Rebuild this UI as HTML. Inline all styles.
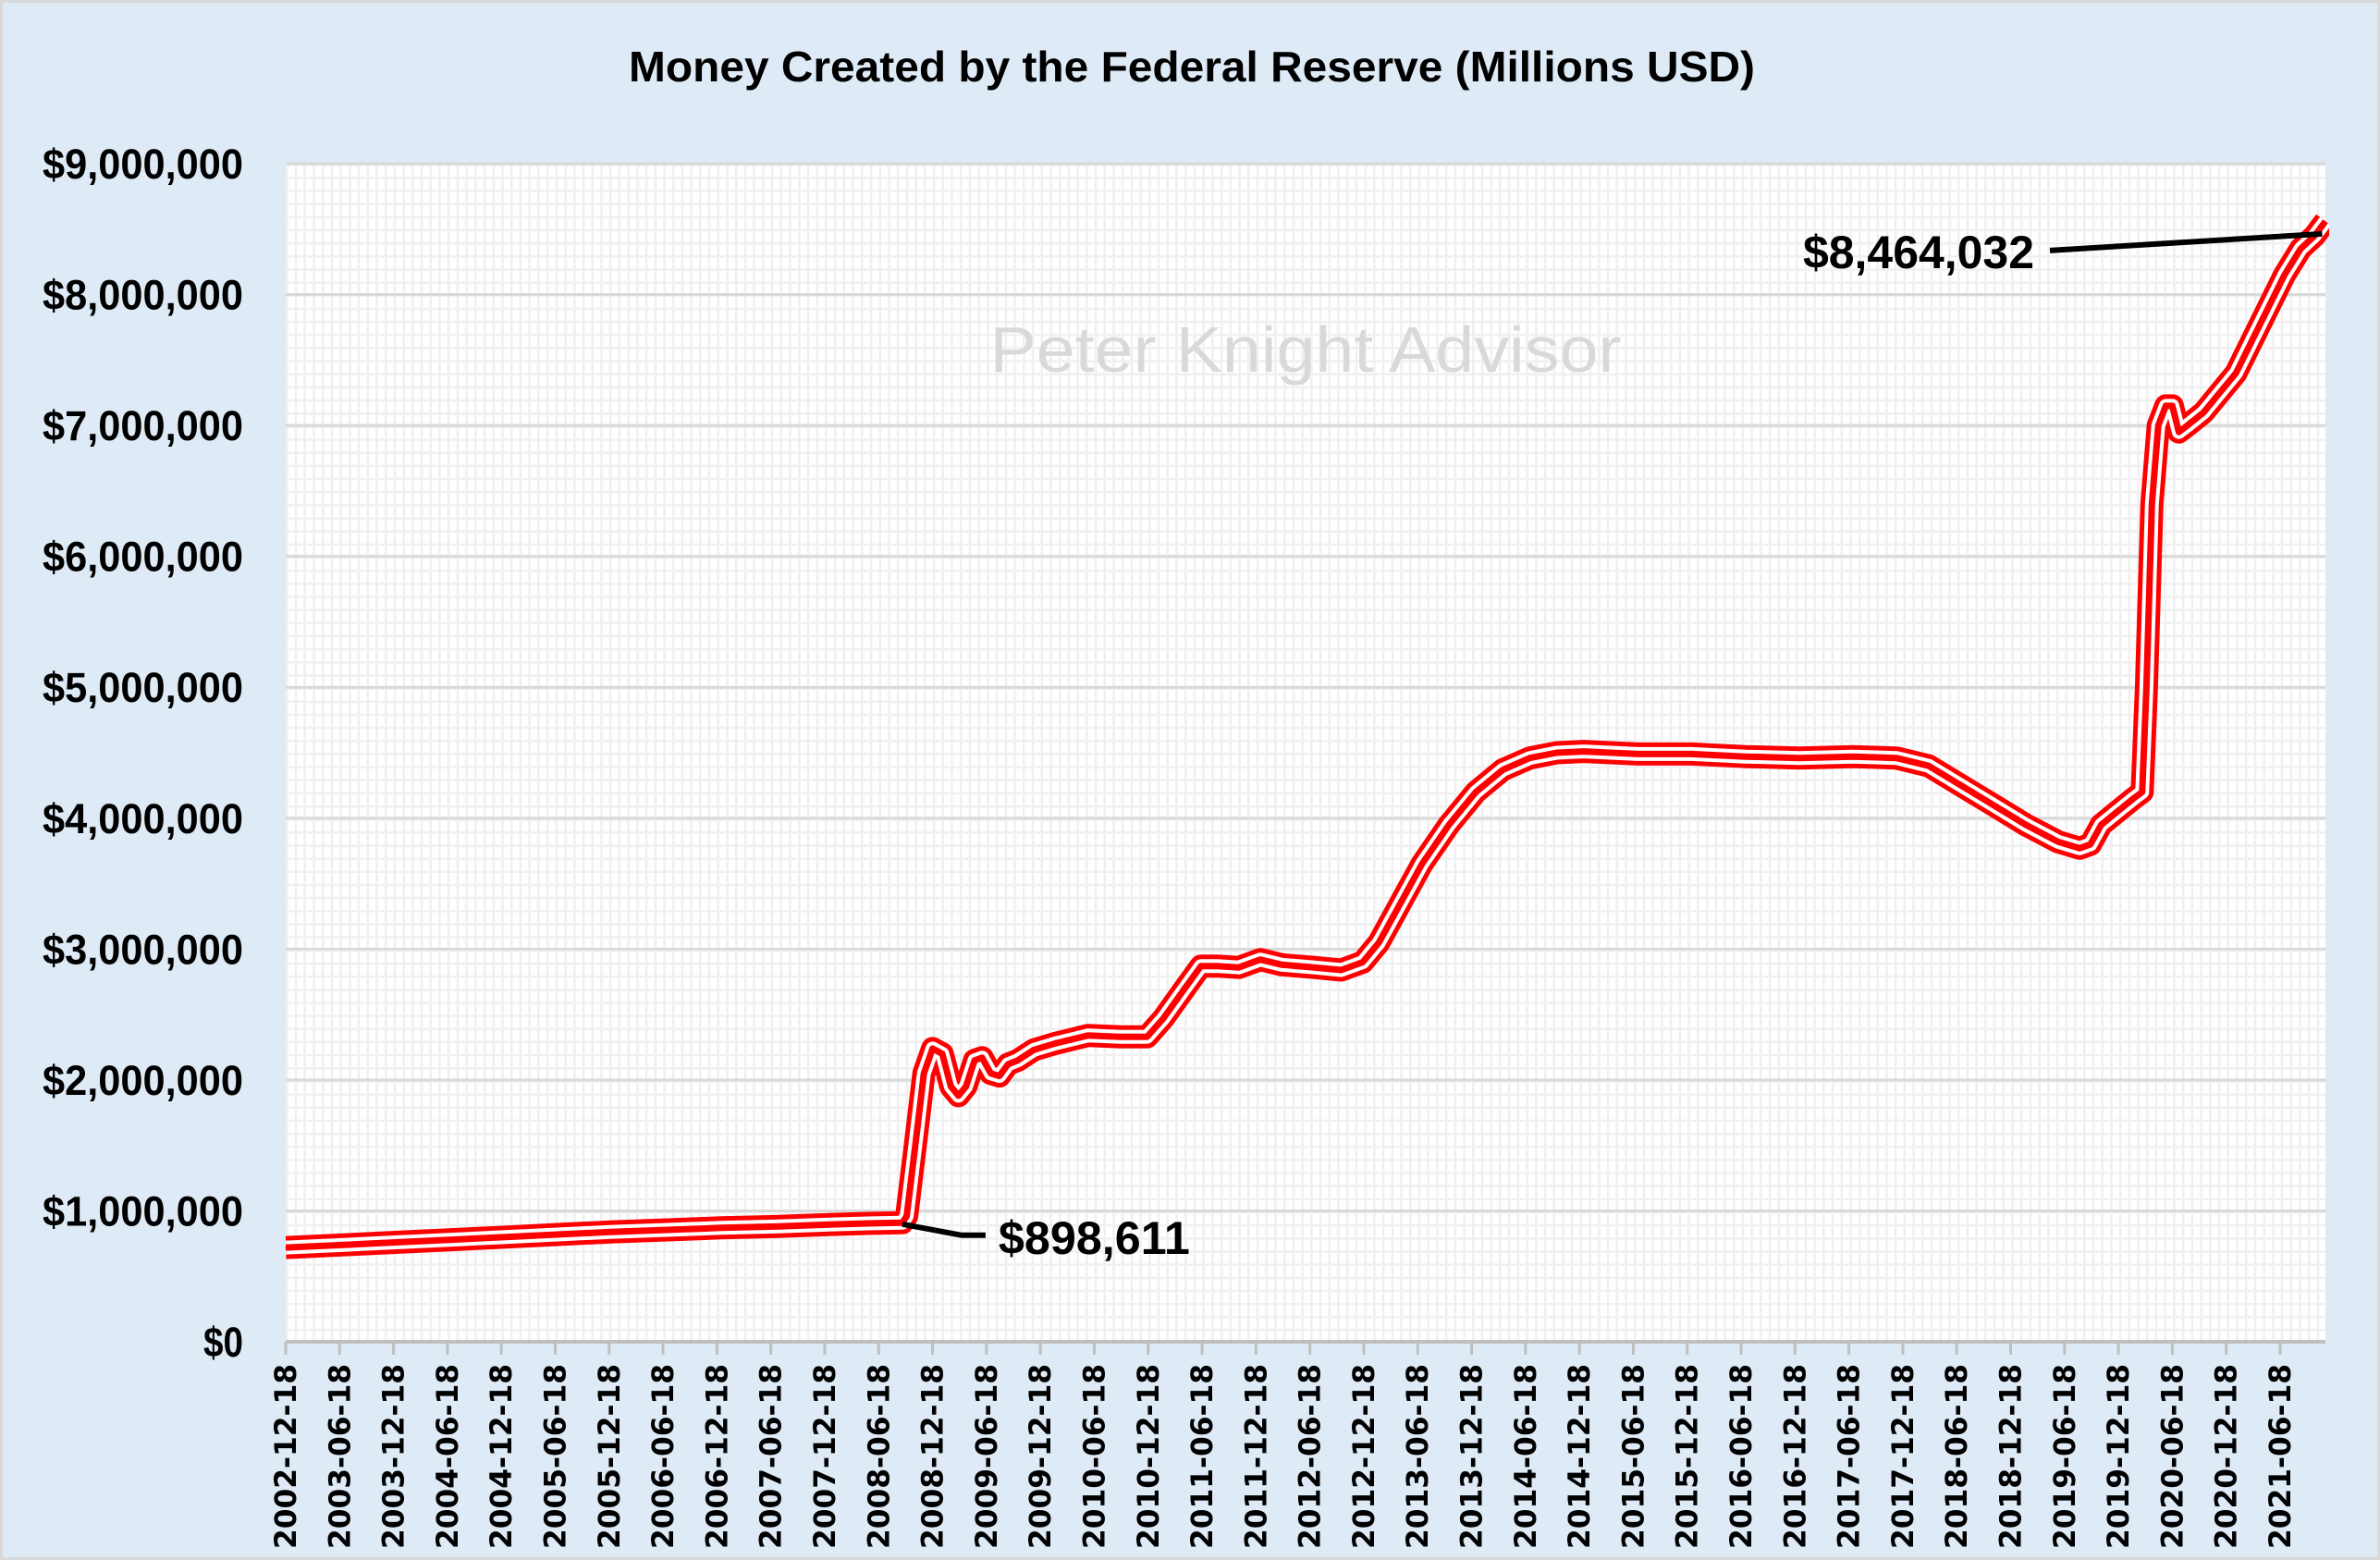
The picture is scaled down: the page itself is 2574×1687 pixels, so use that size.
<!DOCTYPE html>
<html><head><meta charset="utf-8"><style>
html,body{margin:0;padding:0;background:#d9d9d9;}
svg{display:block;}
text{font-family:"Liberation Sans",sans-serif;font-weight:bold;}
</style></head><body>
<svg id="chart" width="2574" height="1687" viewBox="0 0 2574 1687" xmlns="http://www.w3.org/2000/svg">
<defs>
<pattern id="minor" x="309" y="177" width="9.72" height="14.16" patternUnits="userSpaceOnUse">
<rect width="9.72" height="14.16" fill="#ffffff"/>
<rect x="0" y="0" width="2.5" height="14.16" fill="#f0f0f0"/>
<rect x="0" y="0" width="9.72" height="2.5" fill="#f0f0f0"/>
</pattern>
<clipPath id="plotclip"><rect x="309" y="120" width="2210" height="1340"/></clipPath>
</defs>
<rect x="3" y="3" width="2568" height="1681" fill="#deeaf6"/>
<text x="1289" y="88" font-size="46" text-anchor="middle" textLength="1218" lengthAdjust="spacingAndGlyphs" fill="#000">Money Created by the Federal Reserve (Millions USD)</text>
<rect x="309" y="177" width="2206" height="1274" fill="url(#minor)"/>
<g id="grid"></g>
<g id="yaxis"></g>
<g id="xaxis"></g>
<text x="1412" y="402" font-size="70" text-anchor="middle" textLength="683" lengthAdjust="spacingAndGlyphs" fill="#d9d9d9" style="font-weight:normal">Peter Knight Advisor</text>
<g id="series" clip-path="url(#plotclip)"></g>
<g id="annot"></g>
</svg>
<script>
const yTicks=[0,1000000,2000000,3000000,4000000,5000000,6000000,7000000,8000000,9000000];
const yTickLabels=["$0","$1,000,000","$2,000,000","$3,000,000","$4,000,000","$5,000,000","$6,000,000","$7,000,000","$8,000,000","$9,000,000"];
const xTickLabels=["2002-12-18","2003-06-18","2003-12-18","2004-06-18","2004-12-18","2005-06-18","2005-12-18","2006-06-18","2006-12-18","2007-06-18","2007-12-18","2008-06-18","2008-12-18","2009-06-18","2009-12-18","2010-06-18","2010-12-18","2011-06-18","2011-12-18","2012-06-18","2012-12-18","2013-06-18","2013-12-18","2014-06-18","2014-12-18","2015-06-18","2015-12-18","2016-06-18","2016-12-18","2017-06-18","2017-12-18","2018-06-18","2018-12-18","2019-06-18","2019-12-18","2020-06-18","2020-12-18","2021-06-18"];
const dates=[2002.96,2003.5,2004.0,2004.5,2005.0,2005.5,2006.0,2006.5,2007.0,2007.5,2008.0,2008.4,2008.68,2008.72,2008.8,2008.88,2008.96,2009.05,2009.13,2009.2,2009.27,2009.35,2009.42,2009.5,2009.58,2009.66,2009.75,2009.9,2010.1,2010.4,2010.7,2010.95,2011.1,2011.3,2011.45,2011.6,2011.8,2012.0,2012.2,2012.5,2012.75,2012.95,2013.1,2013.3,2013.5,2013.75,2014.0,2014.25,2014.5,2014.75,2015.0,2015.5,2016.0,2016.5,2017.0,2017.5,2017.9,2018.2,2018.5,2018.8,2019.1,2019.4,2019.6,2019.7,2019.8,2019.95,2020.1,2020.18,2020.22,2020.27,2020.33,2020.4,2020.46,2020.52,2020.6,2020.75,2020.9,2021.05,2021.2,2021.35,2021.5,2021.65,2021.78,2021.88];
const values=[720000,740000,760000,780000,800000,820000,840000,855000,870000,880000,895000,905000,910000,960000,1500000,2050000,2240000,2200000,1950000,1880000,1950000,2150000,2170000,2050000,2030000,2120000,2150000,2230000,2280000,2340000,2330000,2330000,2470000,2700000,2870000,2870000,2860000,2920000,2880000,2860000,2840000,2900000,3050000,3350000,3650000,3950000,4200000,4370000,4460000,4500000,4510000,4490000,4490000,4470000,4460000,4470000,4460000,4400000,4250000,4100000,3950000,3820000,3770000,3800000,3950000,4050000,4150000,4200000,5000000,6400000,7000000,7150000,7150000,6950000,7000000,7100000,7250000,7400000,7650000,7900000,8150000,8350000,8450000,8560000];
const annValues=[898611,8464032];
const annLabels=["$898,611","$8,464,032"];
const annDates=[2008.68,2021.85];

const NS="http://www.w3.org/2000/svg";
const L=309,R=2515,T=177,B=1451;
const t0=2002.96,t1=2021.46,x0=309,x1=2466;
function xs(t){return x0+(t-t0)*(x1-x0)/(t1-t0);}
function ys(v){return B-(v/9000000)*(B-T);}
function mk(tag,attrs,parent){const e=document.createElementNS(NS,tag);for(const k in attrs)e.setAttribute(k,attrs[k]);parent.appendChild(e);return e;}

const grid=document.getElementById('grid'),ya=document.getElementById('yaxis'),xa=document.getElementById('xaxis');
yTicks.forEach((v,i)=>{
  const y=ys(v);
  const g=mk('line',{x1:L,x2:R,y1:y,y2:y,stroke:i===0?'#bfbfbf':'#d9d9d9','stroke-width':i===0?4:3},grid);
  
  
  const lab=yTickLabels[i];
  const tx=mk('text',{x:263,y:y+16,'font-size':45,'text-anchor':'end',fill:'#000',textLength:Math.round(lab.length*21.7),lengthAdjust:'spacingAndGlyphs'},ya);
  
  
  tx.textContent=lab;
});
xTickLabels.forEach((lab,i)=>{
  const t=t0+i*0.5;const x=xs(t);
  const tk=mk('line',{x1:x,x2:x,y1:B,y2:B+14,stroke:'#bfbfbf','stroke-width':3},xa);
  
  
  const tx=mk('text',{x:0,y:0,'font-size':32,'text-anchor':'end',fill:'#000',textLength:200,lengthAdjust:'spacingAndGlyphs',style:'font-family:"DejaVu Sans",sans-serif',transform:`translate(${x+11},${B+24}) rotate(-90)`},xa);
  
  
  tx.textContent=lab;
});
const s=document.getElementById('series');
const d=dates.map((t,i)=>(i?'L':'M')+xs(t).toFixed(1)+','+ys(values[i]).toFixed(1)).join(' ');
const p1=mk('path',{d:d,fill:'none',stroke:'#ff0000','stroke-width':25,'stroke-linejoin':'round'},s);


const p2=mk('path',{d:d,fill:'none',stroke:'#ffffff','stroke-width':15,'stroke-linejoin':'round'},s);


const p3=mk('path',{d:d,fill:'none',stroke:'#ff0000','stroke-width':7,'stroke-linejoin':'round'},s);



const an=document.getElementById('annot');
{const x=xs(annDates[0]),y=ys(annValues[0]);
 const l=mk('path',{d:`M${x},${y} L${x+64},${y+12} L${x+90},${y+12}`,fill:'none',stroke:'#000','stroke-width':6},an);
 
 
 const tx=mk('text',{x:x+104,y:y+32,'font-size':50,fill:'#000',textLength:207,lengthAdjust:'spacingAndGlyphs'},an);
 
 
 tx.textContent=annLabels[0];}
{const x=xs(annDates[1]),y=ys(annValues[1]);
 const l=mk('path',{d:`M${x},${y} L${2217},${y+18}`,fill:'none',stroke:'#000','stroke-width':6},an);
 
 
 const tx=mk('text',{x:2200,y:y+37,'font-size':50,'text-anchor':'end',fill:'#000',textLength:250,lengthAdjust:'spacingAndGlyphs'},an);
 
 
 tx.textContent=annLabels[1];}
</script>
</body></html>
